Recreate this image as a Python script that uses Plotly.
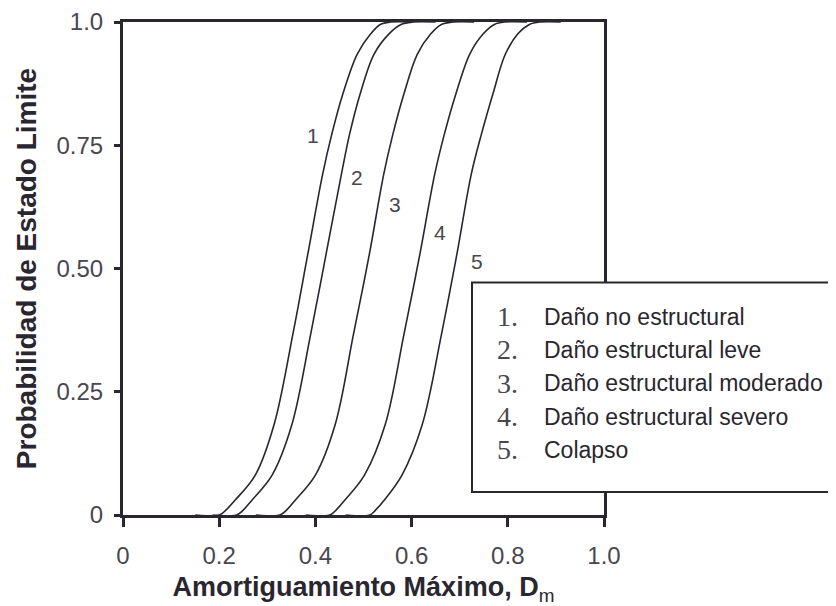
import plotly.graph_objects as go

# ---- data ----
curve_labels = ["1", "2", "3", "4", "5"]
legend_numbers = ["1.", "2.", "3.", "4.", "5."]
legend_names = [
    "Daño no estructural",
    "Daño estructural leve",
    "Daño estructural moderado",
    "Daño estructural severo",
    "Colapso",
]
prob = [0.0, 0.0, 0.01, 0.03, 0.081, 0.183, 0.366, 0.528, 0.691, 0.772, 0.854, 0.935, 0.976, 0.995, 1.0, 1.0]
d1 = [0.150, 0.200, 0.214, 0.233, 0.275, 0.314, 0.353, 0.384, 0.415, 0.434, 0.457, 0.487, 0.515, 0.535, 0.556, 0.600]
d2 = [0.186, 0.236, 0.250, 0.268, 0.310, 0.351, 0.390, 0.422, 0.454, 0.471, 0.493, 0.522, 0.553, 0.578, 0.603, 0.650]
d3 = [0.276, 0.326, 0.340, 0.358, 0.400, 0.441, 0.479, 0.512, 0.542, 0.561, 0.584, 0.612, 0.640, 0.662, 0.686, 0.730]
d4 = [0.380, 0.430, 0.443, 0.461, 0.502, 0.545, 0.584, 0.617, 0.648, 0.668, 0.692, 0.721, 0.749, 0.772, 0.794, 0.840]
d5 = [0.463, 0.513, 0.525, 0.543, 0.580, 0.622, 0.662, 0.694, 0.724, 0.745, 0.769, 0.795, 0.821, 0.845, 0.867, 0.910]
curves = [d1, d2, d3, d4, d5]

label_x = [0.396, 0.486, 0.565, 0.658, 0.735]
label_y = [0.769, 0.684, 0.630, 0.573, 0.515]

x_tickvals = [0, 0.2, 0.4, 0.6, 0.8, 1.0]
x_ticktext = ["0", "0.2", "0.4", "0.6", "0.8", "1.0"]
y_tickvals = [0, 0.25, 0.5, 0.75, 1.0]
y_ticktext = ["0", "0.25", "0.50", "0.75", "1.0"]

INK = "#2a2630"
TXT = "#4a4650"
SANS = "Liberation Sans, Arial, Helvetica, sans-serif"
SERIF = "Liberation Serif, Times New Roman, serif"

fig = go.Figure()
for i, d in enumerate(curves):
    fig.add_trace(go.Scatter(
        x=d, y=prob, mode="lines", name=legend_names[i],
        line=dict(color=INK, width=1.6, shape="spline", smoothing=1.0),
        showlegend=False, hoverinfo="skip",
    ))

annotations = []
for i in range(5):
    annotations.append(dict(
        x=label_x[i], y=label_y[i], xref="x", yref="y", text=curve_labels[i],
        showarrow=False, font=dict(family=SANS, size=21, color=TXT),
    ))

# legend box content
row_y = [0.402, 0.335, 0.267, 0.199, 0.132]
for i in range(5):
    annotations.append(dict(
        x=0.7734, y=row_y[i], xref="paper", yref="paper", text=legend_numbers[i],
        xanchor="left", yanchor="middle", showarrow=False,
        font=dict(family=SERIF, size=28, color=TXT),
    ))
    annotations.append(dict(
        x=0.871, y=row_y[i], xref="paper", yref="paper", text=legend_names[i],
        xanchor="left", yanchor="middle", showarrow=False,
        font=dict(family=SANS, size=23, color=INK),
    ))

# page body has an 8px margin, so the figure is sized to the visible window
fig.update_layout(
    width=828, height=598,
    margin=dict(l=115, r=232, t=14, b=91),
    paper_bgcolor="white", plot_bgcolor="white",
    annotations=annotations,
    shapes=[dict(
        type="rect", xref="paper", yref="paper",
        x0=0.7256, x1=1.6, y0=0.0467, y1=0.4715,
        line=dict(color=INK, width=2), fillcolor="white", layer="above",
    )],
    xaxis=dict(
        range=[0, 1], tickvals=x_tickvals, ticktext=x_ticktext,
        ticks="outside", ticklen=9, tickwidth=2.5, tickcolor=INK,
        showline=True, linewidth=3, linecolor=INK, mirror=True,
        showgrid=False, zeroline=False, automargin=False,
        ticklabelstandoff=8,
        tickfont=dict(family=SANS, size=24, color=TXT),
        title=dict(text="<b>Amortiguamiento Máximo, D</b><sub>m</sub>",
                   font=dict(family=SANS, size=27, color=INK), standoff=15),
    ),
    yaxis=dict(
        range=[0, 1], tickvals=y_tickvals, ticktext=y_ticktext,
        ticks="outside", ticklen=6, tickwidth=2.5, tickcolor=INK,
        showline=True, linewidth=3, linecolor=INK, mirror=True,
        showgrid=False, zeroline=False, automargin=False,
        ticklabelstandoff=6,
        tickfont=dict(family=SANS, size=24, color=TXT),
        title=dict(text="<b>Probabilidad de Estado Limite</b>",
                   font=dict(family=SANS, size=28, color=INK), standoff=12),
    ),
)

fig.write_html("out.html")
